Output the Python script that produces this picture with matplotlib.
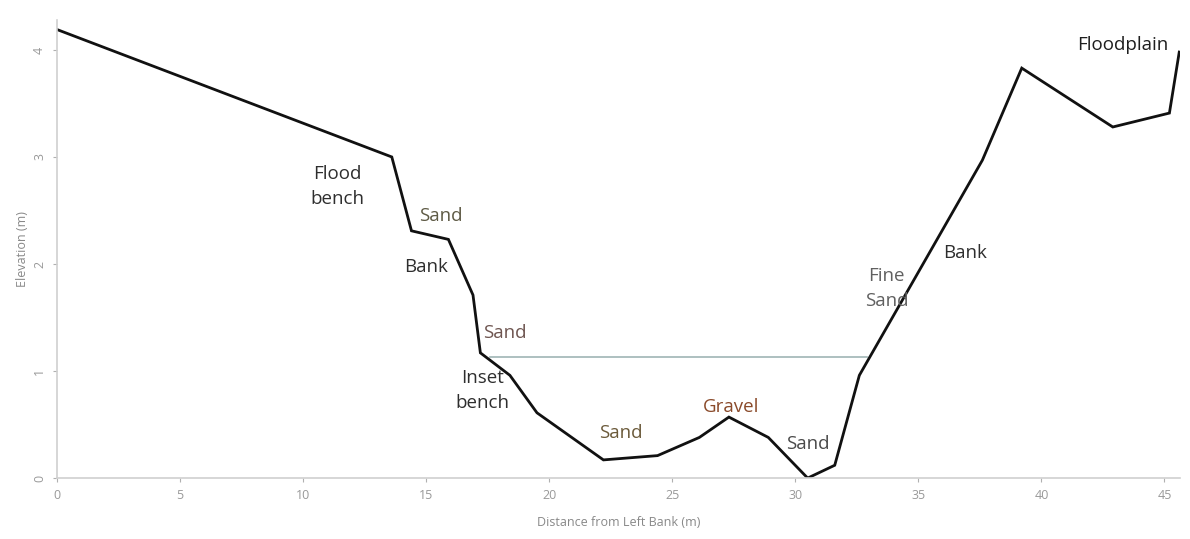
import matplotlib
matplotlib.use("Agg")
import matplotlib.pyplot as plt

# channel cross-section profile
dist = [0, 13.6, 14.4, 15.9, 16.9, 17.2, 18.4, 19.5, 22.2, 24.4, 26.1, 27.3,
        28.9, 30.5, 31.6, 32.6, 37.6, 39.2, 42.9, 45.2, 45.6]
elev = [4.19, 3.0, 2.31, 2.23, 1.71, 1.17, 0.96, 0.61, 0.17, 0.21, 0.38, 0.57,
        0.38, 0.0, 0.12, 0.96, 2.97, 3.83, 3.28, 3.41, 3.98]

# water surface
water_x = [17.6, 32.9]
water_y = [1.13, 1.13]

# annotations: text, x, y, colour
labels = ["Flood\nbench", "Sand", "Bank", "Sand", "Inset\nbench", "Sand",
          "Gravel", "Sand", "Fine\nSand", "Bank", "Floodplain"]
lab_x = [11.4, 15.6, 15.0, 18.2, 17.3, 22.9, 27.4, 30.5, 33.7, 36.9, 43.3]
lab_y = [2.72, 2.45, 1.97, 1.36, 0.82, 0.42, 0.66, 0.32, 1.77, 2.10, 4.05]
lab_c = ["#2e2e2e", "#5e5a45", "#2e2e2e", "#6e5550", "#2e2e2e", "#6b5a3a",
         "#8a4a2a", "#4a4a4a", "#606060", "#2e2e2e", "#1e1e1e"]

plt.rcParams['font.family'] = ['Open Sans', 'DejaVu Sans']

fig = plt.figure(figsize=(11.9, 5.39), dpi=100)
ax = fig.add_axes([0.048, 0.113, 0.944, 0.85])

ax.plot(water_x, water_y, color="#9fb5b5", linewidth=1.2)
ax.plot(dist, elev, color="#111111", linewidth=2.0, solid_joinstyle="miter")

for t, x, y, c in zip(labels, lab_x, lab_y, lab_c):
    ax.text(x, y, t, color=c, fontsize=13.5, ha="center", va="center",
            linespacing=1.5)

ax.set_xlim(0, 45.65)
ax.set_ylim(0, 4.28)
ax.set_xticks([0, 5, 10, 15, 20, 25, 30, 35, 40, 45])
ax.set_yticks([0, 1, 2, 3, 4])
ax.tick_params(colors="#b0b0b0", labelcolor="#999999", labelsize=9,
               length=3, width=0.8, pad=5)
for lab in ax.get_yticklabels():
    lab.set_rotation(90)
    lab.set_va("center")

for s in ["top", "right"]:
    ax.spines[s].set_visible(False)
for s in ["left", "bottom"]:
    ax.spines[s].set_color("#d0d0d0")
    ax.spines[s].set_linewidth(1.2)

ax.set_xlabel("Distance from Left Bank (m)", fontsize=9, color="#888888",
              labelpad=10)
ax.set_ylabel("Elevation (m)", fontsize=9, color="#888888", labelpad=3)

fig.savefig("out.png", dpi=100)
